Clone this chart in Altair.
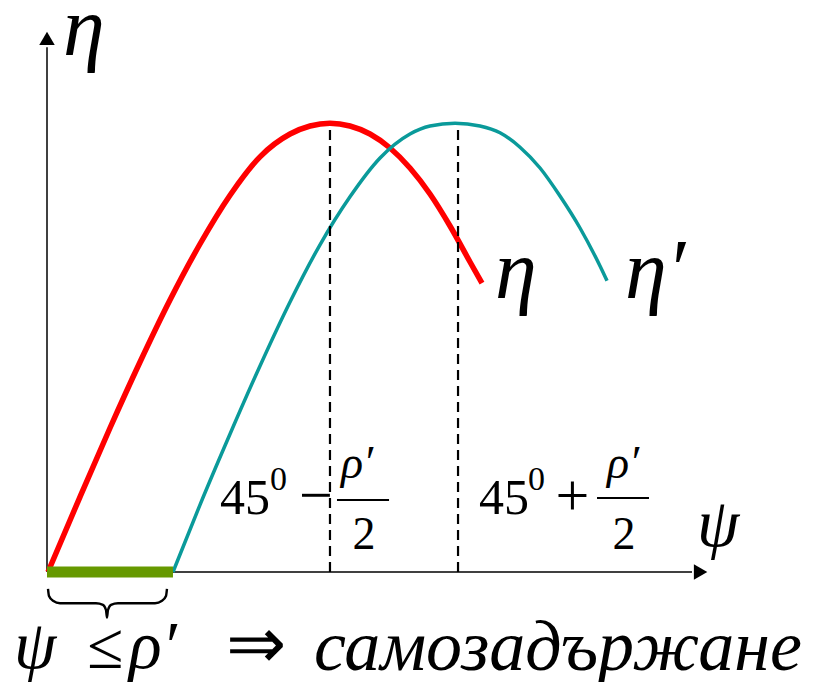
import altair as alt
import pandas as pd

# ---------------- data ----------------
# ψ in degrees, η in relative units
psi_red = [0.00, 4.16, 8.05, 11.95, 15.84, 19.74, 23.64, 27.53, 31.43, 34.03, 36.62,
           39.22, 41.82, 44.42, 47.01, 49.61, 52.21, 54.81, 56.36]
eta_red = [0.000, 0.094, 0.180, 0.2625, 0.340, 0.410, 0.471, 0.519, 0.5475, 0.5575, 0.561,
           0.5575, 0.5475, 0.530, 0.505, 0.4725, 0.4325, 0.3875, 0.361]

psi_teal = [16.23, 19.74, 23.64, 27.53, 31.43, 35.32, 39.22, 43.12, 47.01, 49.61, 52.86,
            56.10, 58.70, 61.30, 63.90, 66.49, 69.09, 71.69, 72.60]
eta_teal = [0.000, 0.084, 0.1725, 0.2575, 0.3375, 0.409, 0.469, 0.5175, 0.5475, 0.5575, 0.561,
            0.5575, 0.549, 0.531, 0.505, 0.470, 0.430, 0.3825, 0.364]

rho_prime = 16.23            # self-locking limit ψ = ρ'
peak_psi = [36.62, 53.25]    # 45° − ρ'/2 and 45° + ρ'/2
peak_eta = [0.559, 0.554]

# brace under the self-locking zone
brace_psi = [0.0, 0.13, 0.65, 1.56, 6.23, 7.14, 7.53, 7.66, 7.79, 8.18, 9.09, 13.90, 14.81, 15.32, 15.45]
brace_eta = [-0.021, -0.030, -0.036, -0.039, -0.039, -0.041, -0.0475, -0.057, -0.0475, -0.041,
             -0.039, -0.039, -0.036, -0.030, -0.021]

# ---------------- layout ----------------
W, H = 798, 674
xs = alt.Scale(domain=[-5.195, 98.44], nice=False, zero=False)
ys = alt.Scale(domain=[-0.1375, 0.705], nice=False, zero=False)
X = alt.X("x:Q", scale=xs, axis=None)
Y = alt.Y("y:Q", scale=ys, axis=None)
FONT = "Liberation Serif"

layers = []

# axes
axis_x0 = -0.13
layers.append(alt.Chart(pd.DataFrame({"x": [axis_x0], "y": [0.0], "y2": [0.656]}))
              .mark_rule(color="black", strokeWidth=1.5)
              .encode(x=X, y=Y, y2="y2:Q"))
layers.append(alt.Chart(pd.DataFrame({"x": [axis_x0], "x2": [83.64], "y": [0.0]}))
              .mark_rule(color="black", strokeWidth=1.5)
              .encode(x=X, x2="x2:Q", y=Y))
layers.append(alt.Chart(pd.DataFrame({"x": [axis_x0], "y": [0.667]}))
              .mark_point(shape="triangle-up", filled=True, size=240, color="black", opacity=1)
              .encode(x=X, y=Y))
layers.append(alt.Chart(pd.DataFrame({"x": [84.75], "y": [0.0]}))
              .mark_point(shape="triangle-right", filled=True, size=240, color="black", opacity=1)
              .encode(x=X, y=Y))

# curves
red = pd.DataFrame({"x": psi_red, "y": eta_red, "o": range(len(psi_red))})
teal = pd.DataFrame({"x": psi_teal, "y": eta_teal, "o": range(len(psi_teal))})
layers.append(alt.Chart(red).mark_line(color="#ff0000", strokeWidth=5.5, interpolate="monotone",
                                       strokeCap="butt")
              .encode(x=X, y=Y, order="o:Q"))
layers.append(alt.Chart(teal).mark_line(color="#0a9a9a", strokeWidth=3.5, interpolate="monotone",
                                        strokeCap="butt")
              .encode(x=X, y=Y, order="o:Q"))

# dashed verticals
dash = pd.DataFrame({"x": peak_psi, "y": [0.0, 0.0], "y2": peak_eta})
layers.append(alt.Chart(dash).mark_rule(color="black", strokeWidth=2.2, strokeDash=[10, 6])
              .encode(x=X, y=Y, y2="y2:Q"))

# self-locking zone on the axis
layers.append(alt.Chart(pd.DataFrame({"x": [axis_x0], "x2": [rho_prime], "y": [0.0]}))
              .mark_rule(color="#669900", strokeWidth=11, strokeCap="butt")
              .encode(x=X, x2="x2:Q", y=Y))

# brace
brace = pd.DataFrame({"x": brace_psi, "y": brace_eta, "o": range(len(brace_psi))})
layers.append(alt.Chart(brace).mark_line(color="black", strokeWidth=2.4, interpolate="monotone")
              .encode(x=X, y=Y, order="o:Q"))

# fraction bars
bars = pd.DataFrame({"x": [37.53, 71.30], "x2": [44.29, 78.05], "y": [0.090, 0.0925]})
layers.append(alt.Chart(bars).mark_rule(color="black", strokeWidth=2)
              .encode(x=X, x2="x2:Q", y=Y))

# text labels: (text, x, y, size, italic, align)
LABELS = [
    ("η", 1.95, 0.646, 84, True, "left"),
    ("η", 58.05, 0.3425, 84, True, "left"),
    ("η′", 74.94, 0.3425, 84, True, "left"),
    ("ψ", 84.29, 0.0325, 68, True, "left"),
    ("45", 22.34, 0.0725, 50, False, "left"),
    ("0", 28.83, 0.1025, 34, False, "left"),
    ("−", 32.60, 0.071, 60, False, "left"),
    ("ρ′", 40.13, 0.1175, 46, True, "center"),
    ("2", 41.04, 0.02875, 46, False, "center"),
    ("45", 55.97, 0.0725, 50, False, "left"),
    ("0", 62.34, 0.1025, 34, False, "left"),
    ("+", 65.90, 0.071, 60, False, "left"),
    ("ρ′", 74.68, 0.1175, 46, True, "center"),
    ("2", 74.81, 0.02875, 46, False, "center"),
    ("ψ", -4.42, -0.12, 68, True, "left"),
    ("≤", 5.06, -0.12, 66, False, "left"),
    ("ρ′", 10.52, -0.12, 68, True, "left"),
    ("⇒", 23.12, -0.12, 72, False, "left"),
    ("самозадържане", 34.55, -0.1225, 72, True, "left"),
]
for t, x, y, s, it, al in LABELS:
    layers.append(alt.Chart(pd.DataFrame({"x": [x], "y": [y], "t": [t]}))
                  .mark_text(font=FONT, fontSize=s, align=al, baseline="alphabetic",
                             fontStyle="italic" if it else "normal")
                  .encode(x=X, y=Y, text="t:N"))

chart = (alt.layer(*layers)
         .properties(width=W, height=H, padding=0, background="white",
                     autosize=alt.AutoSizeParams(type="none"))
         .configure_view(stroke=None))

chart.save("out.html", embed_options={"renderer": "svg", "actions": False})
